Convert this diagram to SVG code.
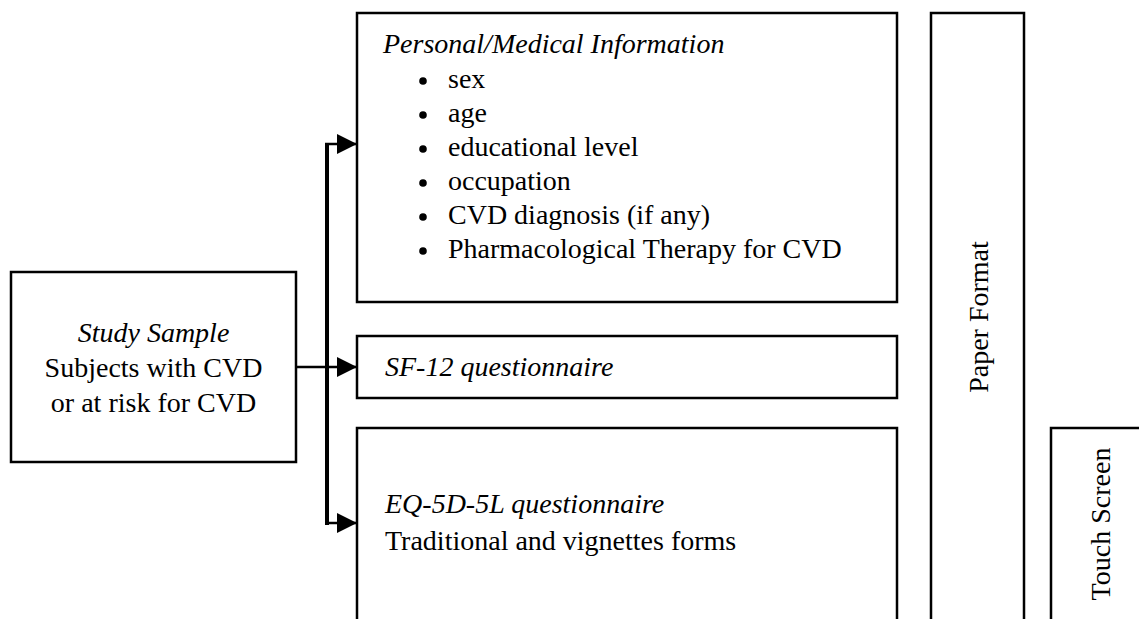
<svg xmlns="http://www.w3.org/2000/svg" width="1139" height="619" viewBox="0 0 1139 619">
  <style>
    .box { fill: #fff; stroke: #000; stroke-width: 2.5; }
    .t { font-family: "Liberation Serif", "Times New Roman", serif; font-size: 28px; fill: #000; }
    .i { font-style: italic; }
    .c { text-anchor: middle; }
    .dot { fill: #000; }
    .wire { fill: none; stroke: #000; stroke-width: 2.5; }
    .spine { fill: none; stroke: #000; stroke-width: 4; }
  </style>
  <defs>
    <marker id="arrow" markerUnits="userSpaceOnUse" markerWidth="20" markerHeight="20" refX="20" refY="10" orient="auto">
      <path d="M0,0 L20,10 L0,20 Z" fill="#000"/>
    </marker>
  </defs>
  <rect width="1139" height="619" fill="#fff"/>

  <g id="connectors">
    <path class="spine" d="M327,144 V525"/>
    <path class="wire" d="M325,144 H357" marker-end="url(#arrow)"/>
    <path class="wire" d="M296,367 H357" marker-end="url(#arrow)"/>
    <path class="wire" d="M325,523 H357" marker-end="url(#arrow)"/>
  </g>

  <g id="study-sample">
    <rect class="box" x="11" y="272" width="285" height="190"/>
    <text class="t i c" x="153.5" y="342">Study Sample</text>
    <text class="t c" x="153.5" y="377">Subjects with CVD</text>
    <text class="t c" x="153.5" y="412">or at risk for CVD</text>
  </g>

  <g id="personal-medical">
    <rect class="box" x="357" y="13" width="540" height="289"/>
    <text class="t i" x="383" y="53">Personal/Medical Information</text>
    <g>
      <circle class="dot" cx="423" cy="81" r="3.8"/><text class="t" x="448" y="88">sex</text>
      <circle class="dot" cx="423" cy="115" r="3.8"/><text class="t" x="448" y="122">age</text>
      <circle class="dot" cx="423" cy="149" r="3.8"/><text class="t" x="448" y="156">educational level</text>
      <circle class="dot" cx="423" cy="183" r="3.8"/><text class="t" x="448" y="190">occupation</text>
      <circle class="dot" cx="423" cy="217" r="3.8"/><text class="t" x="448" y="224">CVD diagnosis (if any)</text>
      <circle class="dot" cx="423" cy="251" r="3.8"/><text class="t" x="448" y="258">Pharmacological Therapy for CVD</text>
    </g>
  </g>

  <g id="sf12">
    <rect class="box" x="357" y="336" width="540" height="62"/>
    <text class="t i" x="385" y="376">SF-12 questionnaire</text>
  </g>

  <g id="eq5d">
    <rect class="box" x="357" y="428" width="540" height="220"/>
    <text class="t i" x="385" y="513">EQ-5D-5L questionnaire</text>
    <text class="t" x="385" y="550">Traditional and vignettes forms</text>
  </g>

  <g id="paper-format">
    <rect class="box" x="931" y="13" width="93" height="640"/>
    <text class="t c" transform="translate(988,317) rotate(-90)">Paper Format</text>
  </g>

  <g id="touch-screen">
    <rect class="box" x="1051" y="428" width="120" height="230"/>
    <text class="t c" transform="translate(1110,524) rotate(-90)">Touch Screen</text>
  </g>
</svg>
